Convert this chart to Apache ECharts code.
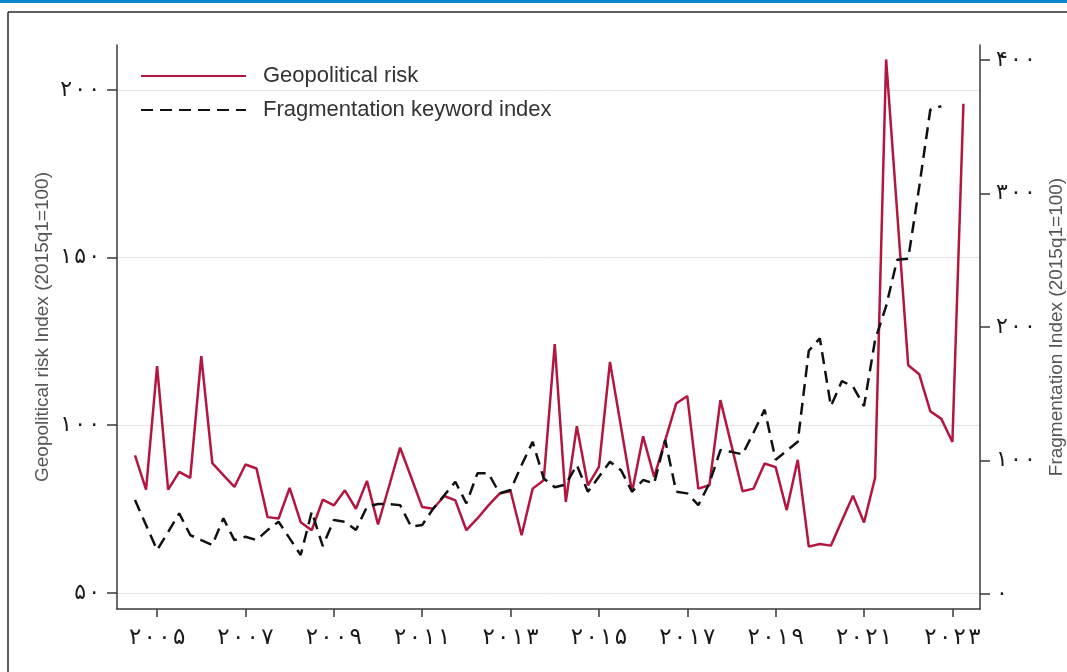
<!DOCTYPE html>
<html>
<head>
<meta charset="utf-8">
<script src="https://cdn.jsdelivr.net/npm/echarts@6/dist/echarts.min.js"></script>
<style>
  html, body { margin: 0; padding: 0; background: #fff; }
  #chart { width: 1067px; height: 672px; }
</style>
</head>
<body>
<div id="chart"></div>
<script>
// quarters 2005Q1 .. 2023Q4, index 0..75
const gprValues = [
  91.0, 80.8, 117.6, 80.8, 86.1, 84.3, 120.6, 88.7, 85.1, 81.6,
  88.3, 87.1, 72.6, 72.2, 81.3, 71.1, 68.7, 77.8, 76.1, 80.6,
  75.1, 83.4, 70.4, 81.8, 93.3, 84.5, 75.6, 75.1, 78.9, 77.6,
  68.7, 72.2, 76.1, 79.6, 80.4, 67.2, 81.1, 83.6, 124.2, 77.1,
  99.7, 82.1, 87.6, 118.9, 99.5, 80.1, 96.7, 84.6, 95.5, 106.5,
  108.7, 81.1, 82.1, 107.5, 94.0, 80.3, 81.1, 88.6, 87.5, 74.7,
  89.7, 63.8, 64.6, 64.1, 71.6, 79.0, 71.0, 84.3, 209.1, 163.6,
  117.9, 115.2, 104.2, 101.9, 95.0, 195.9
]
const fragValues = [
  70.4, 51.7, 32.9, 46.4, 60.4, 44.2, 40.4, 36.7, 56.7, 40.4,
  42.9, 40.4, 47.9, 54.1, 41.7, 29.2, 61.6, 35.9, 55.4, 54.1,
  47.9, 65.4, 67.4, 67.4, 66.6, 50.4, 51.7, 64.0, 74.0, 84.1,
  67.9, 90.4, 90.4, 75.4, 77.9, 96.6, 114.0, 86.6, 80.0, 82.0,
  96.6, 76.6, 87.8, 99.1, 92.8, 76.6, 85.4, 82.9, 115.3, 76.6,
  75.4, 66.6, 82.9, 107.8, 106.5, 104.6, 121.0, 138.1, 100.6, 107.3,
  114.0, 182.2, 191.5, 140.8, 159.5, 155.4, 140.8, 190.2, 215.6, 250.4,
  251.2, 305.1, 362.7, 365.4
]
// x ticks sit on the 3rd quarter of each labelled year
const yearTickIdx = [2, 10, 18, 26, 34, 42, 50, 58, 66, 74]
const yearTickLabels = ['۲۰۰۵', '۲۰۰۷', '۲۰۰۹', '۲۰۱۱', '۲۰۱۳', '۲۰۱۵', '۲۰۱۷', '۲۰۱۹', '۲۰۲۱', '۲۰۲۳']
const leftTicks = [50, 100, 150, 200]
const leftTickLabels = ['۵۰', '۱۰۰', '۱۵۰', '۲۰۰']
const rightTicks = [0, 100, 200, 300, 400]
const rightTickLabels = ['۰', '۱۰۰', '۲۰۰', '۳۰۰', '۴۰۰']

// the source spreads its year digits a little
function spread (s, sp) {
  return s.split('').join(sp)
}

const chart = echarts.init(document.getElementById('chart'))
const axisColor = '#3a3a3a'
const option = {
  backgroundColor: '#fff',
  animation: false,
  graphic: [
    { type: 'rect', shape: { x: 0, y: 0, width: 1067, height: 3 }, style: { fill: '#0a86c9' } },
    { type: 'line', shape: { x1: 8, y1: 12, x2: 1067, y2: 12 }, style: { stroke: '#2a2a2a', lineWidth: 1.5 } },
    { type: 'line', shape: { x1: 8, y1: 12, x2: 8, y2: 672 }, style: { stroke: '#2a2a2a', lineWidth: 1.5 } }
  ],
  legend: {
    orient: 'vertical',
    left: 135,
    top: 60,
    itemWidth: 105,
    itemHeight: 22,
    itemGap: 12,
    itemStyle: { opacity: 0 },
    textStyle: {
      fontFamily: 'Liberation Sans',
      fontSize: 22,
      color: '#333',
      padding: [0, 0, 0, 12]
    },
    data: ['Geopolitical risk', 'Fragmentation keyword index']
  },
  grid: { left: 117, right: 87, top: 45, bottom: 63, outerBoundsMode: 'none' },
  xAxis: {
    type: 'value',
    min: -1.63,
    max: 76.5,
    splitLine: { show: false },
    axisLine: { onZero: false, lineStyle: { color: axisColor, width: 1.5 } },
    axisTick: { customValues: yearTickIdx, length: 8, lineStyle: { color: axisColor, width: 1.5 } },
    axisLabel: {
      customValues: yearTickIdx,
      margin: 18,
      fontFamily: 'DejaVu Sans',
      fontSize: 23,
      color: '#1a1a1a',
      formatter: v => spread(yearTickLabels[yearTickIdx.indexOf(Math.round(v))] || '', '\u200a')
    }
  },
  yAxis: [
    {
      type: 'value',
      position: 'left',
      min: 45.2,
      max: 213.4,
      name: 'Geopolitical risk Index (2015q1=100)',
      nameLocation: 'middle',
      nameRotate: 90,
      nameGap: 65,
      nameMoveOverlap: false,
      nameTextStyle: { fontFamily: 'Liberation Sans', fontSize: 19, color: '#555' },
      axisLine: { show: true, onZero: false, lineStyle: { color: axisColor, width: 1.5 } },
      axisTick: { show: true, customValues: leftTicks, length: 10, lineStyle: { color: axisColor, width: 1.5 } },
      axisLabel: {
        customValues: leftTicks,
        margin: 17,
        fontFamily: 'DejaVu Sans',
        fontSize: 22,
        color: '#1a1a1a',
        formatter: v => spread(leftTickLabels[leftTicks.indexOf(Math.round(v))] || '', '\u200a')
      },
      splitLine: { show: true, lineStyle: { color: '#e4e4e4', width: 1 } }
    },
    {
      type: 'value',
      position: 'right',
      min: -11.2,
      max: 411.2,
      name: 'Fragmentation Index (2015q1=100)',
      nameLocation: 'middle',
      nameRotate: 90,
      nameGap: 67,
      nameMoveOverlap: false,
      nameTextStyle: { fontFamily: 'Liberation Sans', fontSize: 19, color: '#555' },
      axisLine: { show: true, onZero: false, lineStyle: { color: axisColor, width: 1.5 } },
      axisTick: { show: true, customValues: rightTicks, length: 10, lineStyle: { color: axisColor, width: 1.5 } },
      axisLabel: {
        customValues: rightTicks,
        margin: 16,
        fontFamily: 'DejaVu Sans',
        fontSize: 22,
        color: '#1a1a1a',
        formatter: v => spread(rightTickLabels[rightTicks.indexOf(Math.round(v))] || '', '\u200a')
      },
      splitLine: { show: false }
    }
  ],
  series: [
    {
      name: 'Geopolitical risk',
      type: 'line',
      yAxisIndex: 0,
      symbol: 'none',
      color: '#b3163f',
      lineStyle: { color: '#b3163f', width: 2.5 },
      data: gprValues.map((v, i) => [i, v])
    },
    {
      name: 'Fragmentation keyword index',
      type: 'line',
      yAxisIndex: 1,
      symbol: 'none',
      color: '#111',
      lineStyle: { color: '#111', width: 2.5, type: [12, 7] },
      data: fragValues.map((v, i) => [i, v])
    }
  ]
}
chart.setOption(option)
</script>
</body>
</html>
